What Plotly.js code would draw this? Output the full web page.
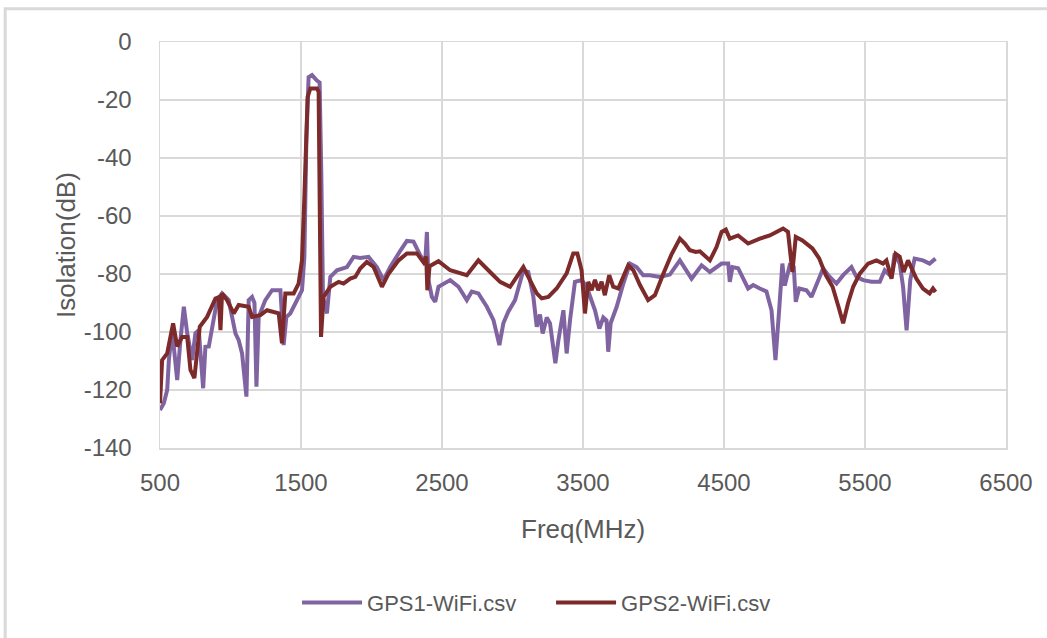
<!DOCTYPE html>
<html>
<head>
<meta charset="utf-8">
<script src="https://cdn.plot.ly/plotly-3.0.1.min.js"></script>
<style>
  body { margin: 0; background: #ffffff; overflow: hidden; }
  #isolationPlot { width: 1047px; height: 638px; }
</style>
</head>
<body>
<div id="isolationPlot"></div>
<script>
'use strict'

// GPS1 -> WiFi isolation
var gps1_freq = [500, 527, 551, 563, 586, 622, 645, 669, 693, 728, 751, 775, 806, 822, 846, 870, 905, 940, 987,
  1035, 1058, 1082, 1113, 1129, 1153, 1170, 1184, 1200, 1247, 1295, 1354, 1377, 1396, 1424, 1472, 1507, 1524,
  1538, 1554, 1578, 1613, 1632, 1644, 1656, 1684, 1708, 1755, 1826, 1873, 1920, 1979, 2038, 2085, 2133, 2204,
  2251, 2298, 2345, 2381, 2393, 2404, 2428, 2452, 2475, 2558, 2617, 2676, 2711, 2758, 2818, 2865, 2907, 2935,
  2970, 3018, 3077, 3112, 3148, 3172, 3195, 3214, 3243, 3266, 3285, 3304, 3325, 3342, 3361, 3384, 3408, 3443,
  3490, 3526, 3561, 3585, 3616, 3644, 3667, 3679, 3696, 3739, 3786, 3833, 3880, 3927, 3974, 4045, 4116, 4187,
  4270, 4341, 4400, 4483, 4530, 4541, 4560, 4600, 4671, 4707, 4754, 4801, 4837, 4865, 4891, 4914, 4931, 4966,
  4995, 5009, 5033, 5085, 5120, 5156, 5203, 5250, 5298, 5345, 5404, 5440, 5487, 5546, 5605, 5640, 5688, 5710,
  5746, 5770, 5795, 5821, 5852, 5911, 5958, 6000];
var gps1_db = [-126.9, -124.6, -120, -109.7, -99.4, -116.6, -102.8, -91.3, -100.4, -109.7, -100.4, -99.4, -119.4, -105.1, -105, -98.2, -89, -86.7, -89,
  -100.5, -102.8, -107.4, -122.3, -89, -87.9, -90, -118.9, -94.8, -89, -85.6, -85.6, -104.5, -94.8, -93.6, -89, -85.6, -74.1,
  -33.9, -12.1, -11.4, -13.3, -14, -45.4, -88, -93.6, -81, -78.7, -77.6, -74.1, -74.5, -74.1, -77.6, -82.1, -77.6, -72,
  -68.6, -68.8, -73.5, -76, -65.5, -82.1, -87.9, -89.6, -84.4, -82.1, -84.4, -89, -86.1, -86.7, -91.3, -95.9, -104.5, -97,
  -93, -89, -78.7, -79.3, -87.9, -98.2, -94, -100.5, -95, -97, -102.8, -110.8, -103, -98, -92.5, -107.4, -95.9, -82.7,
  -82.1, -84.4, -89, -92.5, -98.8, -95, -96, -106.8, -97, -91.3, -83.3, -76.4, -77.6, -80.4, -80.4, -81, -80.2, -75.3,
  -81.6, -77, -79.3, -76.4, -76.4, -82.7, -77.6, -78, -85, -83.8, -85, -86, -92.5, -109.7, -92.5, -76.4, -84, -77,
  -77.6, -89.6, -85, -85.6, -87.9, -83.3, -78.1, -81, -83.3, -80.4, -77.6, -81, -82.1, -82.7, -82.7, -78.7, -81, -72.9,
  -76.4, -84.4, -99.4, -82.1, -74.7, -75.3, -76.4, -74.7];

// GPS2 -> WiFi isolation
var gps2_freq = [500, 515, 551, 593, 622, 657, 693, 716, 744, 782, 834, 893, 917, 929, 940, 975, 1023, 1058, 1129,
  1153, 1212, 1259, 1342, 1365, 1389, 1448, 1483, 1507, 1524, 1547, 1566, 1613, 1625, 1642, 1660, 1708, 1767,
  1802, 1849, 1885, 1920, 1967, 2015, 2074, 2121, 2192, 2251, 2322, 2369, 2388, 2396, 2412, 2475, 2558, 2676,
  2758, 2841, 2912, 2983, 3042, 3077, 3112, 3172, 3207, 3254, 3313, 3384, 3431, 3460, 3490, 3514, 3537, 3561,
  3585, 3608, 3632, 3655, 3686, 3714, 3750, 3786, 3821, 3857, 3904, 3962, 4010, 4069, 4128, 4187, 4222, 4258,
  4300, 4329, 4400, 4447, 4483, 4513, 4541, 4600, 4671, 4754, 4825, 4872, 4919, 4954, 4985, 5009, 5056, 5127,
  5175, 5222, 5270, 5312, 5345, 5380, 5416, 5463, 5522, 5581, 5628, 5652, 5688, 5717, 5746, 5774, 5805, 5864,
  5911, 5958, 5982, 6000];
var gps2_db = [-124.6, -109.7, -107.4, -97, -105, -101.7, -101.7, -113.1, -115.9, -98.2, -94.8, -88.5, -88, -99.4, -86.7, -89, -93.6, -90.7, -91.3,
  -94.8, -94.2, -92.5, -93.6, -103.9, -86.7, -86.7, -83.3, -75.3, -53.4, -19, -16, -16, -17.2, -101.7, -87.9, -84.4, -82.7,
  -83.3, -81.6, -81, -78.1, -75.8, -77.6, -84.4, -79.9, -75.3, -72.9, -72.9, -76, -74, -85.6, -77.3, -75.6, -78.7, -80.4,
  -75.3, -79.3, -82.7, -84.4, -79.9, -77.6, -81, -86.7, -88.4, -87.9, -85, -79.8, -72.9, -72.9, -78.7, -93.6, -82.7, -85.6,
  -82, -85.6, -82.7, -87.3, -80.4, -84.4, -85, -81, -77, -78.7, -83.8, -89, -87.3, -80, -73.2, -67.8, -69.5, -71.8,
  -72.4, -72.2, -75.3, -70.7, -65.5, -64.7, -67.8, -66.7, -69.5, -67.8, -66.7, -65.5, -64.3, -65.5, -79.3, -67.2, -68.4, -71.2,
  -74.6, -80.4, -84.4, -91.3, -97, -90, -84.4, -79.9, -76.4, -75.3, -76.4, -75.3, -81.6, -73, -74, -79.3, -75.3, -81.6,
  -85, -86.7, -85, -86.2];

var series_names = ["GPS1-WiFi.csv", "GPS2-WiFi.csv"];
var x_ticks = [500, 1500, 2500, 3500, 4500, 5500, 6500];
var y_ticks = [0, -20, -40, -60, -80, -100, -120, -140];
var y_ticktext = ["0", "-20", "-40", "-60", "-80", "-100", "-120", "-140"];
var x_title = "Freq(MHz)";
var y_title = "Isolation(dB)";

var text_grey = "#595959";
var grid_grey = "#d9d9d9";
var font_family = "'Liberation Sans', Arial, sans-serif";

function make_trace(x, y, name, color) {
  return {
    type: 'scatter',
    mode: 'lines',
    x: x, y: y,
    name: name,
    line: { color: color, width: 4 },
    hoverinfo: 'skip'
  };
}

var data = [
  make_trace(gps1_freq, gps1_db, series_names[0], "#8064a2"),
  make_trace(gps2_freq, gps2_db, series_names[1], "#7d2a2a")
];

var layout = {
  width: 1047,
  height: 638,
  paper_bgcolor: "#ffffff",
  plot_bgcolor: "#ffffff",
  margin: { l: 160, r: 41, t: 42, b: 190 },
  font: { family: font_family, color: text_grey, size: 22 },
  showlegend: true,
  legend: {
    orientation: 'h',
    x: 0.162, xanchor: 'left',
    y: -0.381, yanchor: 'middle',
    font: { size: 22, color: text_grey },
    entrywidth: 179, entrywidthmode: 'pixels',
    itemwidth: 60
  },
  xaxis: {
    range: [500, 6500],
    tickvals: x_ticks,
    ticktext: x_ticks.map(String),
    tickfont: { size: 24, color: text_grey },
    ticks: '',
    ticklabelstandoff: 13,
    showgrid: true, gridcolor: grid_grey, gridwidth: 1.5,
    showline: true, linecolor: grid_grey, linewidth: 1.5, mirror: true,
    zeroline: false
  },
  yaxis: {
    range: [-140, 0],
    tickvals: y_ticks,
    ticktext: y_ticktext,
    tickfont: { size: 24, color: text_grey },
    ticks: '',
    ticklabelstandoff: 22,
    showgrid: true, gridcolor: grid_grey, gridwidth: 1.5,
    showline: true, linecolor: grid_grey, linewidth: 1.5, mirror: true,
    zeroline: false
  },
  annotations: [
    { text: x_title, xref: 'paper', yref: 'paper', x: 0.5, y: -0.199,
      xanchor: 'center', yanchor: 'middle', showarrow: false,
      font: { size: 26, color: text_grey } },
    { text: y_title, xref: 'paper', yref: 'paper', x: -0.111, y: 0.5,
      xanchor: 'center', yanchor: 'middle', showarrow: false, textangle: -90,
      font: { size: 26, color: text_grey } }
  ],
  shapes: [{
    // outer chart frame, cut off on the right and bottom like the screenshot
    type: 'rect', xref: 'paper', yref: 'paper',
    x0: -0.183, x1: 1.2, y0: -0.7, y1: 1.082,
    line: { color: grid_grey, width: 3 },
    layer: 'below'
  }]
};

var config = { displayModeBar: false, staticPlot: true };

Plotly.newPlot("isolationPlot", data, layout, config);
</script>
</body>
</html>
